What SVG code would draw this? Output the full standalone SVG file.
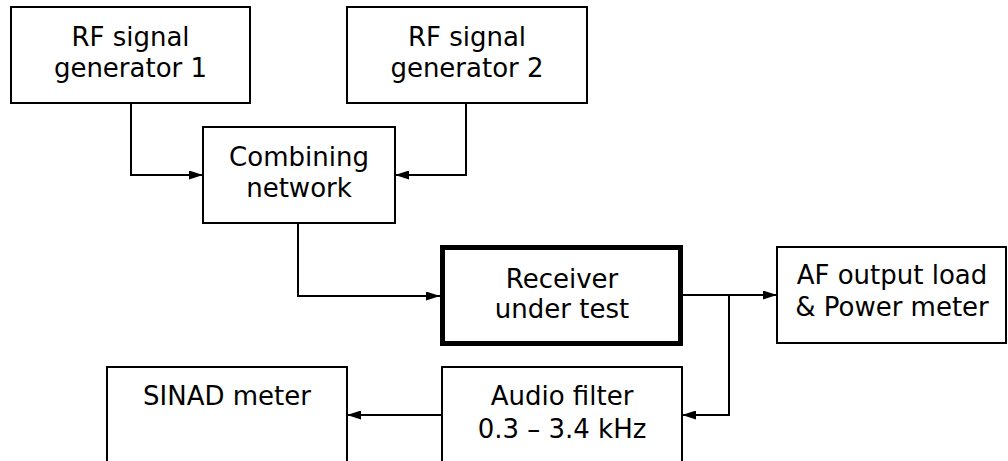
<svg xmlns="http://www.w3.org/2000/svg" width="1008" height="461" viewBox="0 0 1008 461">
<defs>
<marker id="arr" viewBox="0 0 14 9" refX="14" refY="4.5" markerWidth="14" markerHeight="9" markerUnits="userSpaceOnUse" orient="auto">
<path d="M0,0 L14,4.5 L0,9 Z" fill="#000"/>
</marker>
<style>
.box{fill:#fff;stroke:#000;stroke-width:2}
.thick{fill:#fff;stroke:#000;stroke-width:5}
.t{font-family:"DejaVu Sans","Verdana",sans-serif;font-size:26px;fill:#000;text-anchor:middle}
.c{fill:none;stroke:#000;stroke-width:2;marker-end:url(#arr)}
</style>
</defs>
<rect width="1008" height="461" fill="#fff"/>
<g id="connectors">
<path class="c" d="M131,103 V175 H203"/>
<path class="c" d="M466,103 V175 H395"/>
<path class="c" d="M298,223 V296 H440"/>
<path class="c" d="M683,295 H777"/>
<path class="c" d="M729,295 V415 H682"/>
<path class="c" d="M442,415 H347"/>
</g>
<g id="gen1">
<rect class="box" x="11" y="7" width="239" height="96"/>
<text class="t" x="130.5" y="46">RF signal</text>
<text class="t" x="130.5" y="77">generator 1</text>
</g>
<g id="gen2">
<rect class="box" x="347" y="7" width="240" height="96"/>
<text class="t" x="467" y="46">RF signal</text>
<text class="t" x="467" y="77">generator 2</text>
</g>
<g id="combiner">
<rect class="box" x="203" y="127" width="192" height="96"/>
<text class="t" x="299" y="166">Combining</text>
<text class="t" x="299" y="197">network</text>
</g>
<g id="receiver">
<rect class="thick" x="442.5" y="247.5" width="238" height="96"/>
<text class="t" x="562" y="288">Receiver</text>
<text class="t" x="562" y="318">under test</text>
</g>
<g id="afload">
<rect class="box" x="777" y="247" width="229" height="96"/>
<text class="t" x="892" y="284">AF output load</text>
<text class="t" x="892" y="316">&amp; Power meter</text>
</g>
<g id="sinad">
<rect class="box" x="107" y="367" width="240" height="110"/>
<text class="t" x="227" y="405">SINAD meter</text>
</g>
<g id="audiofilter">
<rect class="box" x="442" y="367" width="240" height="110"/>
<text class="t" x="562" y="405">Audio filter</text>
<text class="t" x="562" y="438">0.3 – 3.4 kHz</text>
</g>
</svg>
